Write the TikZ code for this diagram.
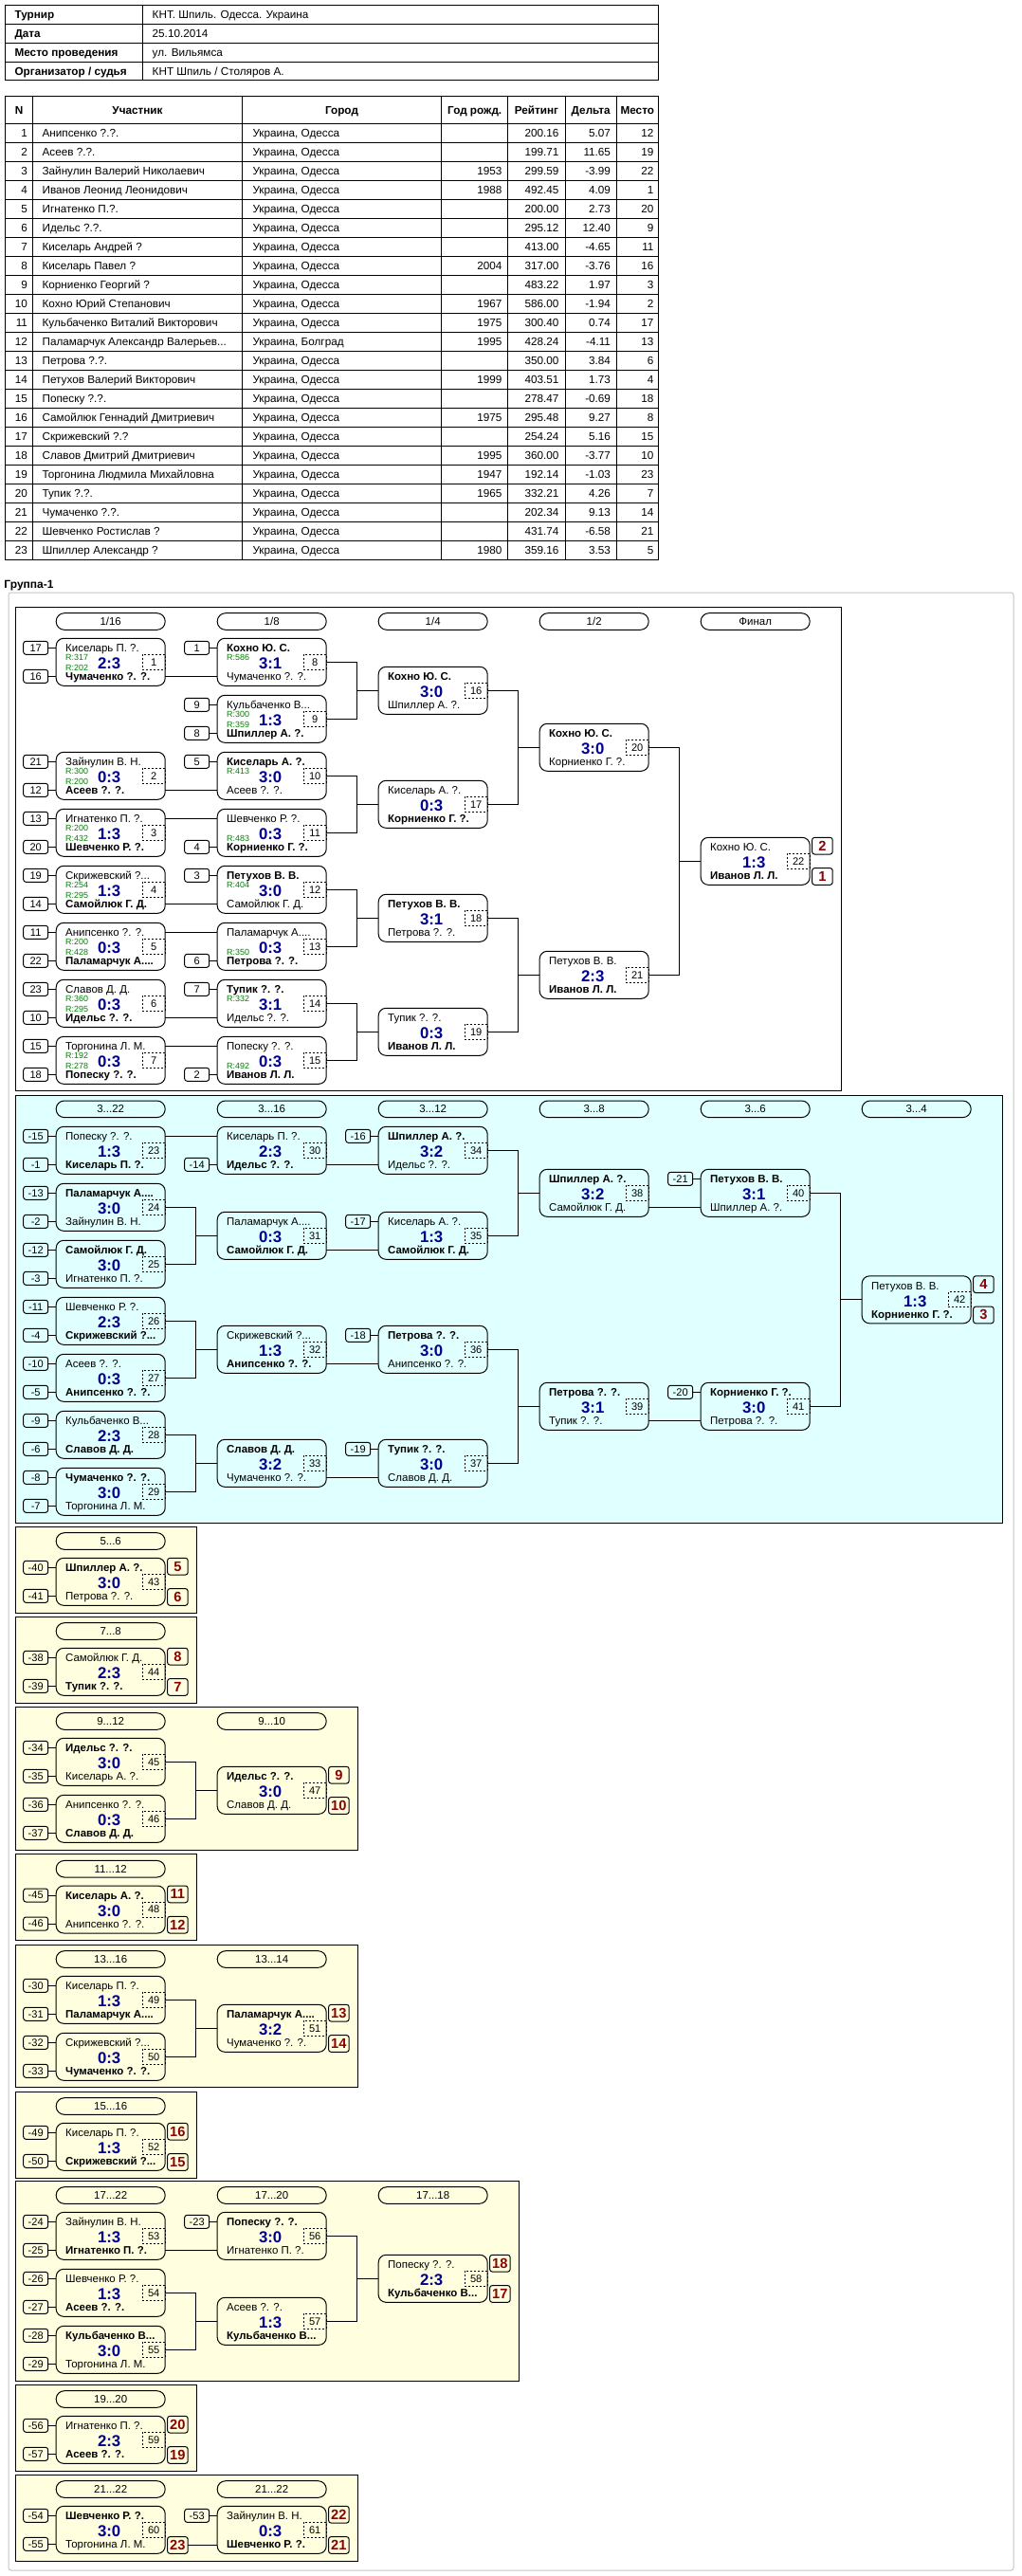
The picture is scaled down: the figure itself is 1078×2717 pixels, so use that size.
\documentclass[tikz,border=0pt]{standalone}
\usepackage{fontspec}
\setmainfont{Liberation Sans}
\definecolor{scorec}{HTML}{000090}
\definecolor{ratc}{HTML}{008000}
\definecolor{placec}{HTML}{8B0000}
\definecolor{cyanbg}{HTML}{E0FFFF}
\definecolor{yelbg}{HTML}{FFFFE0}
\tikzset{
 every node/.style={inner sep=0pt,outer sep=0pt},
 gbox/.style={draw,rounded corners=6pt,minimum width=86.25pt,minimum height=37.5pt},
 nm/.style={font=\fontsize{8.6pt}{10pt}\selectfont},
 sc/.style={font=\fontsize{12.6pt}{14pt}\selectfont\bfseries,text=scorec},
 rat/.style={font=\fontsize{6.7pt}{8pt}\selectfont,text=ratc},
 gno/.style={draw,dash pattern=on 1.5pt off 1.5pt,minimum width=18pt,minimum height=12pt,font=\fontsize{8.3pt}{10pt}\selectfont},
 seedbox/.style={draw,rounded corners=2pt,minimum width=19.5pt,minimum height=10.5pt,font=\fontsize{8.3pt}{10pt}\selectfont},
 placebox/.style={draw,rounded corners=2pt,minimum width=16.2pt,minimum height=13.3pt,font=\fontsize{11pt}{12pt}\selectfont\bfseries,text=placec},
 pill/.style={draw,rounded corners=6.5pt,minimum width=86.25pt,minimum height=13.2pt,font=\fontsize{8.6pt}{10pt}\selectfont},
 tb/.style={font=\fontsize{8.8pt}{10pt}\selectfont},
 tbb/.style={font=\fontsize{8.8pt}{10pt}\selectfont\bfseries},
}
\newcommand\W[1]{\textbf{#1}}
\newcommand\gm[6]{%
 \node[gbox] (m#1) at ({#2+57.5},{#3+25}) {};
 \node[nm,anchor=base west] (m#1t) at ({#2+10},{#3+14.2}) {#4};
 \node[nm,anchor=base west] (m#1b) at ({#2+10},{#3+44.2}) {#5};
 \node[sc,anchor=base] (m#1s) at ({#2+56},{#3+32.5}) {#6};
 \node[gno,anchor=east] (m#1n) at (m#1.east) {#1};
}
\newcommand\rt[2]{\node[rat,anchor=base west] (m#1rt) at ([shift={(10,23.2)}]m#1.north west) {#2};}
\newcommand\rb[2]{\node[rat,anchor=base west] (m#1rb) at ([shift={(10,34.2)}]m#1.north west) {#2};}
\newcommand\sT[2]{\node[seedbox] (m#1st) at ([shift={(-21.5,10)}]m#1.north west) {#2};
 \draw (m#1st.east) -- (m#1st.east -| m#1.west);}
\newcommand\sB[2]{\node[seedbox] (m#1sb) at ([shift={(-21.5,40)}]m#1.north west) {#2};
 \draw (m#1sb.east) -- (m#1sb.east -| m#1.west);}
\newcommand\pT[2]{\node[placebox,anchor=north west] (m#1pt) at ([xshift=1.8pt]m#1.north east) {#2};}
\newcommand\pB[2]{\node[placebox,anchor=south west] (m#1pb) at ([xshift=1.8pt]m#1.south east) {#2};}
\newcommand\wT[2]{\draw ([yshift=-7.5pt]m#1.north east) -- ([yshift=-7.5pt]m#2.north west);}
\newcommand\wB[2]{\draw ([yshift=7.5pt]m#1.south east) -- ([yshift=7.5pt]m#2.south west);}
\newcommand\br[3]{\draw (m#1.east) -| ([xshift=-17.25pt]m#3.west) |- (m#2.east);
 \draw ([xshift=-17.25pt]m#3.west) -- (m#3.west);}
\newcommand\pl[4]{\node[pill] (#1) at ({#2+57.5},{#3+8.8}) {#4};}
\newcommand\prow[7]{%
 \pgfmathsetmacro\ry{130+20*(#1-1)+14.3}%
 \node[tb,anchor=base east] (r#1n) at (29,\ry) {#1};
 \node[tb,anchor=base west] (r#1p) at (44.6,\ry) {#2};
 \node[tb,anchor=base west] (r#1c) at (266.5,\ry) {#3};
 \node[tb,anchor=base east] (r#1y) at (529.5,\ry) {#4};
 \node[tb,anchor=base east] (r#1r) at (589.5,\ry) {#5};
 \node[tb,anchor=base east] (r#1d) at (644,\ry) {#6};
 \node[tb,anchor=base east] (r#1m) at (689.5,\ry) {#7};
}
\begin{document}
\begin{tikzpicture}[x=0.75pt,y=-0.75pt,line width=0.75pt]
\useasboundingbox (0,0) rectangle (1078,2717);
\fill[white] (0,0) rectangle (1078,2717);
% ---------- header table
\draw (5.4,5) rectangle (694.2,84.3);
\foreach \yy in {25,45,65} \draw (5.4,\yy) -- (694.2,\yy);
\draw (150.9,5) -- (150.9,84.3);
\node[tbb,anchor=base west] (h1) at (15.6,19.3) {Турнир};
\node[tb,anchor=base west] (h1v) at (160.7,19.3) {КНТ. Шпиль. Одесса. Украина};
\node[tbb,anchor=base west] (h2) at (15.6,39.3) {Дата};
\node[tb,anchor=base west] (h2v) at (160.7,39.3) {25.10.2014};
\node[tbb,anchor=base west] (h3) at (15.6,59.3) {Место проведения};
\node[tb,anchor=base west] (h3v) at (160.7,59.3) {ул. Вильямса};
\node[tbb,anchor=base west] (h4) at (15.6,79) {Организатор / судья};
\node[tb,anchor=base west] (h4v) at (160.7,79) {КНТ Шпиль / Столяров А.};
% ---------- players table
\draw (5.4,101.7) rectangle (694.2,590);
\foreach \k in {0,...,22} \draw (5.4,{130+20*\k}) -- (694.2,{130+20*\k});
\foreach \xx in {34.8,255.3,465.6,535.7,596,650.4} \draw (\xx,101.7) -- (\xx,590);
\node[tbb,anchor=base] (hN) at (20.1,120.3) {N};
\node[tbb,anchor=base] (hP) at (145,120.3) {Участник};
\node[tbb,anchor=base] (hC) at (360.5,120.3) {Город};
\node[tbb,anchor=base] (hY) at (500.7,120.3) {Год рожд.};
\node[tbb,anchor=base] (hR) at (565.9,120.3) {Рейтинг};
\node[tbb,anchor=base] (hD) at (623.2,120.3) {Дельта};
\node[tbb,anchor=base] (hM) at (672.3,120.3) {Место};
\prow{1}{Анипсенко ?.?.}{Украина, Одесса}{}{200.16}{5.07}{12}
\prow{2}{Асеев ?.?.}{Украина, Одесса}{}{199.71}{11.65}{19}
\prow{3}{Зайнулин Валерий Николаевич}{Украина, Одесса}{1953}{299.59}{-3.99}{22}
\prow{4}{Иванов Леонид Леонидович}{Украина, Одесса}{1988}{492.45}{4.09}{1}
\prow{5}{Игнатенко П.?.}{Украина, Одесса}{}{200.00}{2.73}{20}
\prow{6}{Идельс ?.?.}{Украина, Одесса}{}{295.12}{12.40}{9}
\prow{7}{Киселарь Андрей ?}{Украина, Одесса}{}{413.00}{-4.65}{11}
\prow{8}{Киселарь Павел ?}{Украина, Одесса}{2004}{317.00}{-3.76}{16}
\prow{9}{Корниенко Георгий ?}{Украина, Одесса}{}{483.22}{1.97}{3}
\prow{10}{Кохно Юрий Степанович}{Украина, Одесса}{1967}{586.00}{-1.94}{2}
\prow{11}{Кульбаченко Виталий Викторович}{Украина, Одесса}{1975}{300.40}{0.74}{17}
\prow{12}{Паламарчук Александр Валерьев...}{Украина, Болград}{1995}{428.24}{-4.11}{13}
\prow{13}{Петрова ?.?.}{Украина, Одесса}{}{350.00}{3.84}{6}
\prow{14}{Петухов Валерий Викторович}{Украина, Одесса}{1999}{403.51}{1.73}{4}
\prow{15}{Попеску ?.?.}{Украина, Одесса}{}{278.47}{-0.69}{18}
\prow{16}{Самойлюк Геннадий Дмитриевич}{Украина, Одесса}{1975}{295.48}{9.27}{8}
\prow{17}{Скрижевский ?.?}{Украина, Одесса}{}{254.24}{5.16}{15}
\prow{18}{Славов Дмитрий Дмитриевич}{Украина, Одесса}{1995}{360.00}{-3.77}{10}
\prow{19}{Торгонина Людмила Михайловна}{Украина, Одесса}{1947}{192.14}{-1.03}{23}
\prow{20}{Тупик ?.?.}{Украина, Одесса}{1965}{332.21}{4.26}{7}
\prow{21}{Чумаченко ?.?.}{Украина, Одесса}{}{202.34}{9.13}{14}
\prow{22}{Шевченко Ростислав ?}{Украина, Одесса}{}{431.74}{-6.58}{21}
\prow{23}{Шпиллер Александр ?}{Украина, Одесса}{1980}{359.16}{3.53}{5}
% ---------- group
\node[font=\fontsize{9pt}{10pt}\selectfont\bfseries,anchor=base west] (grp) at (4.5,620) {Группа-1};
\draw[gray!45,rounded corners=2pt] (9,625) rectangle (1069,2711);
% ---------- main bracket
\filldraw[fill=white] (16,640) rectangle (887,1150);
\pl{p1}{59.2}{646.7}{1/16}\pl{p2}{229.2}{646.7}{1/8}\pl{p3}{399.2}{646.7}{1/4}
\pl{p4}{569.2}{646.7}{1/2}\pl{p5}{739.2}{646.7}{Финал}
\gm{1}{59.2}{673.3}{Киселарь П. ?.}{\W{Чумаченко ?. ?.}}{2:3}\rt{1}{R:317}\rb{1}{R:202}\sT{1}{17}\sB{1}{16}
\gm{2}{59.2}{793.3}{Зайнулин В. Н.}{\W{Асеев ?. ?.}}{0:3}\rt{2}{R:300}\rb{2}{R:200}\sT{2}{21}\sB{2}{12}
\gm{3}{59.2}{853.3}{Игнатенко П. ?.}{\W{Шевченко Р. ?.}}{1:3}\rt{3}{R:200}\rb{3}{R:432}\sT{3}{13}\sB{3}{20}
\gm{4}{59.2}{913.3}{Скрижевский ?...}{\W{Самойлюк Г. Д.}}{1:3}\rt{4}{R:254}\rb{4}{R:295}\sT{4}{19}\sB{4}{14}
\gm{5}{59.2}{973.3}{Анипсенко ?. ?.}{\W{Паламарчук А....}}{0:3}\rt{5}{R:200}\rb{5}{R:428}\sT{5}{11}\sB{5}{22}
\gm{6}{59.2}{1033.3}{Славов Д. Д.}{\W{Идельс ?. ?.}}{0:3}\rt{6}{R:360}\rb{6}{R:295}\sT{6}{23}\sB{6}{10}
\gm{7}{59.2}{1093.3}{Торгонина Л. М.}{\W{Попеску ?. ?.}}{0:3}\rt{7}{R:192}\rb{7}{R:278}\sT{7}{15}\sB{7}{18}
\gm{8}{229.2}{673.3}{\W{Кохно Ю. С.}}{Чумаченко ?. ?.}{3:1}\rt{8}{R:586}\sT{8}{1}
\gm{9}{229.2}{733.3}{Кульбаченко В...}{\W{Шпиллер А. ?.}}{1:3}\rt{9}{R:300}\rb{9}{R:359}\sT{9}{9}\sB{9}{8}
\gm{10}{229.2}{793.3}{\W{Киселарь А. ?.}}{Асеев ?. ?.}{3:0}\rt{10}{R:413}\sT{10}{5}
\gm{11}{229.2}{853.3}{Шевченко Р. ?.}{\W{Корниенко Г. ?.}}{0:3}\rb{11}{R:483}\sB{11}{4}
\gm{12}{229.2}{913.3}{\W{Петухов В. В.}}{Самойлюк Г. Д.}{3:0}\rt{12}{R:404}\sT{12}{3}
\gm{13}{229.2}{973.3}{Паламарчук А....}{\W{Петрова ?. ?.}}{0:3}\rb{13}{R:350}\sB{13}{6}
\gm{14}{229.2}{1033.3}{\W{Тупик ?. ?.}}{Идельс ?. ?.}{3:1}\rt{14}{R:332}\sT{14}{7}
\gm{15}{229.2}{1093.3}{Попеску ?. ?.}{\W{Иванов Л. Л.}}{0:3}\rb{15}{R:492}\sB{15}{2}
\gm{16}{399.2}{703.3}{\W{Кохно Ю. С.}}{Шпиллер А. ?.}{3:0}
\gm{17}{399.2}{823.3}{Киселарь А. ?.}{\W{Корниенко Г. ?.}}{0:3}
\gm{18}{399.2}{943.3}{\W{Петухов В. В.}}{Петрова ?. ?.}{3:1}
\gm{19}{399.2}{1063.3}{Тупик ?. ?.}{\W{Иванов Л. Л.}}{0:3}
\gm{20}{569.2}{763.3}{\W{Кохно Ю. С.}}{Корниенко Г. ?.}{3:0}
\gm{21}{569.2}{1003.3}{Петухов В. В.}{\W{Иванов Л. Л.}}{2:3}
\gm{22}{739.2}{883.3}{Кохно Ю. С.}{\W{Иванов Л. Л.}}{1:3}\pT{22}{2}\pB{22}{1}
\wB{1}{8}\wB{2}{10}\wT{3}{11}\wB{4}{12}\wT{5}{13}\wB{6}{14}\wT{7}{15}
\br{8}{9}{16}\br{10}{11}{17}\br{12}{13}{18}\br{14}{15}{19}
\br{16}{17}{20}\br{18}{19}{21}\br{20}{21}{22}
% ---------- 3..22
\filldraw[fill=cyanbg] (16,1155) rectangle (1057,1606);
\pl{q1}{59.2}{1161}{3...22}\pl{q2}{229.2}{1161}{3...16}\pl{q3}{399.2}{1161}{3...12}
\pl{q4}{569.2}{1161}{3...8}\pl{q5}{739.2}{1161}{3...6}\pl{q6}{909.2}{1161}{3...4}
\gm{23}{59.2}{1188.3}{Попеску ?. ?.}{\W{Киселарь П. ?.}}{1:3}\sT{23}{-15}\sB{23}{-1}
\gm{24}{59.2}{1248.3}{\W{Паламарчук А....}}{Зайнулин В. Н.}{3:0}\sT{24}{-13}\sB{24}{-2}
\gm{25}{59.2}{1308.3}{\W{Самойлюк Г. Д.}}{Игнатенко П. ?.}{3:0}\sT{25}{-12}\sB{25}{-3}
\gm{26}{59.2}{1368.3}{Шевченко Р. ?.}{\W{Скрижевский ?...}}{2:3}\sT{26}{-11}\sB{26}{-4}
\gm{27}{59.2}{1428.3}{Асеев ?. ?.}{\W{Анипсенко ?. ?.}}{0:3}\sT{27}{-10}\sB{27}{-5}
\gm{28}{59.2}{1488.3}{Кульбаченко В...}{\W{Славов Д. Д.}}{2:3}\sT{28}{-9}\sB{28}{-6}
\gm{29}{59.2}{1548.3}{\W{Чумаченко ?. ?.}}{Торгонина Л. М.}{3:0}\sT{29}{-8}\sB{29}{-7}
\gm{30}{229.2}{1188.3}{Киселарь П. ?.}{\W{Идельс ?. ?.}}{2:3}\sB{30}{-14}
\gm{31}{229.2}{1278.3}{Паламарчук А....}{\W{Самойлюк Г. Д.}}{0:3}
\gm{32}{229.2}{1398.3}{Скрижевский ?...}{\W{Анипсенко ?. ?.}}{1:3}
\gm{33}{229.2}{1518.3}{\W{Славов Д. Д.}}{Чумаченко ?. ?.}{3:2}
\gm{34}{399.2}{1188.3}{\W{Шпиллер А. ?.}}{Идельс ?. ?.}{3:2}\sT{34}{-16}
\gm{35}{399.2}{1278.3}{Киселарь А. ?.}{\W{Самойлюк Г. Д.}}{1:3}\sT{35}{-17}
\gm{36}{399.2}{1398.3}{\W{Петрова ?. ?.}}{Анипсенко ?. ?.}{3:0}\sT{36}{-18}
\gm{37}{399.2}{1518.3}{\W{Тупик ?. ?.}}{Славов Д. Д.}{3:0}\sT{37}{-19}
\gm{38}{569.2}{1233.3}{\W{Шпиллер А. ?.}}{Самойлюк Г. Д.}{3:2}
\gm{39}{569.2}{1458.3}{\W{Петрова ?. ?.}}{Тупик ?. ?.}{3:1}
\gm{40}{739.2}{1233.3}{\W{Петухов В. В.}}{Шпиллер А. ?.}{3:1}\sT{40}{-21}
\gm{41}{739.2}{1458.3}{\W{Корниенко Г. ?.}}{Петрова ?. ?.}{3:0}\sT{41}{-20}
\gm{42}{909.2}{1345.8}{Петухов В. В.}{\W{Корниенко Г. ?.}}{1:3}\pT{42}{4}\pB{42}{3}
\wT{23}{30}\br{24}{25}{31}\br{26}{27}{32}\br{28}{29}{33}
\wB{30}{34}\wB{31}{35}\wB{32}{36}\wB{33}{37}
\br{34}{35}{38}\br{36}{37}{39}\wB{38}{40}\wB{39}{41}\br{40}{41}{42}
% ---------- 5..6
\filldraw[fill=yelbg] (16,1610) rectangle (207.5,1701.7);
\pl{y1}{59.2}{1616.7}{5...6}
\gm{43}{59.2}{1643.3}{\W{Шпиллер А. ?.}}{Петрова ?. ?.}{3:0}\sT{43}{-40}\sB{43}{-41}\pT{43}{5}\pB{43}{6}
% ---------- 7..8
\filldraw[fill=yelbg] (16,1705) rectangle (207.5,1796.7);
\pl{y2}{59.2}{1711.7}{7...8}
\gm{44}{59.2}{1738.3}{Самойлюк Г. Д.}{\W{Тупик ?. ?.}}{2:3}\sT{44}{-38}\sB{44}{-39}\pT{44}{8}\pB{44}{7}
% ---------- 9..12
\filldraw[fill=yelbg] (16,1800) rectangle (377.5,1951);
\pl{y3}{59.2}{1806.7}{9...12}\pl{y4}{229.2}{1806.7}{9...10}
\gm{45}{59.2}{1833.3}{\W{Идельс ?. ?.}}{Киселарь А. ?.}{3:0}\sT{45}{-34}\sB{45}{-35}
\gm{46}{59.2}{1893.3}{Анипсенко ?. ?.}{\W{Славов Д. Д.}}{0:3}\sT{46}{-36}\sB{46}{-37}
\gm{47}{229.2}{1863.3}{\W{Идельс ?. ?.}}{Славов Д. Д.}{3:0}\pT{47}{9}\pB{47}{10}
\br{45}{46}{47}
% ---------- 11..12
\filldraw[fill=yelbg] (16,1955.7) rectangle (207.5,2046);
\pl{y5}{59.2}{1962.4}{11...12}
\gm{48}{59.2}{1989}{\W{Киселарь А. ?.}}{Анипсенко ?. ?.}{3:0}\sT{48}{-45}\sB{48}{-46}\pT{48}{11}\pB{48}{12}
% ---------- 13..16
\filldraw[fill=yelbg] (16,2051) rectangle (377.5,2201);
\pl{y6}{59.2}{2057.7}{13...16}\pl{y7}{229.2}{2057.7}{13...14}
\gm{49}{59.2}{2084.3}{Киселарь П. ?.}{\W{Паламарчук А....}}{1:3}\sT{49}{-30}\sB{49}{-31}
\gm{50}{59.2}{2144.3}{Скрижевский ?...}{\W{Чумаченко ?. ?.}}{0:3}\sT{50}{-32}\sB{50}{-33}
\gm{51}{229.2}{2114.3}{\W{Паламарчук А....}}{Чумаченко ?. ?.}{3:2}\pT{51}{13}\pB{51}{14}
\br{49}{50}{51}
% ---------- 15..16
\filldraw[fill=yelbg] (16,2206) rectangle (207.5,2297);
\pl{y8}{59.2}{2212.7}{15...16}
\gm{52}{59.2}{2239.3}{Киселарь П. ?.}{\W{Скрижевский ?...}}{1:3}\sT{52}{-49}\sB{52}{-50}\pT{52}{16}\pB{52}{15}
% ---------- 17..22
\filldraw[fill=yelbg] (16,2300) rectangle (547.5,2511.7);
\pl{y9}{59.2}{2306.7}{17...22}\pl{y10}{229.2}{2306.7}{17...20}\pl{y11}{399.2}{2306.7}{17...18}
\gm{53}{59.2}{2333.3}{Зайнулин В. Н.}{\W{Игнатенко П. ?.}}{1:3}\sT{53}{-24}\sB{53}{-25}
\gm{54}{59.2}{2393.3}{Шевченко Р. ?.}{\W{Асеев ?. ?.}}{1:3}\sT{54}{-26}\sB{54}{-27}
\gm{55}{59.2}{2453.3}{\W{Кульбаченко В...}}{Торгонина Л. М.}{3:0}\sT{55}{-28}\sB{55}{-29}
\gm{56}{229.2}{2333.3}{\W{Попеску ?. ?.}}{Игнатенко П. ?.}{3:0}\sT{56}{-23}
\gm{57}{229.2}{2423.3}{Асеев ?. ?.}{\W{Кульбаченко В...}}{1:3}
\gm{58}{399.2}{2378.3}{Попеску ?. ?.}{\W{Кульбаченко В...}}{2:3}\pT{58}{18}\pB{58}{17}
\wB{53}{56}\br{54}{55}{57}\br{56}{57}{58}
% ---------- 19..20
\filldraw[fill=yelbg] (16,2515) rectangle (207.5,2606.7);
\pl{y12}{59.2}{2521.7}{19...20}
\gm{59}{59.2}{2548.3}{Игнатенко П. ?.}{\W{Асеев ?. ?.}}{2:3}\sT{59}{-56}\sB{59}{-57}\pT{59}{20}\pB{59}{19}
% ---------- 21..22
\filldraw[fill=yelbg] (16,2610) rectangle (377.5,2701.7);
\pl{y13}{59.2}{2616.7}{21...22}\pl{y14}{229.2}{2616.7}{21...22}
\gm{60}{59.2}{2643.3}{\W{Шевченко Р. ?.}}{Торгонина Л. М.}{3:0}\sT{60}{-54}\sB{60}{-55}\pB{60}{23}
\gm{61}{229.2}{2643.3}{Зайнулин В. Н.}{\W{Шевченко Р. ?.}}{0:3}\sT{61}{-53}\pT{61}{22}\pB{61}{21}
\draw (m60pb.east) -- (m60pb.east -| m61.west);
\end{tikzpicture}
\end{document}
